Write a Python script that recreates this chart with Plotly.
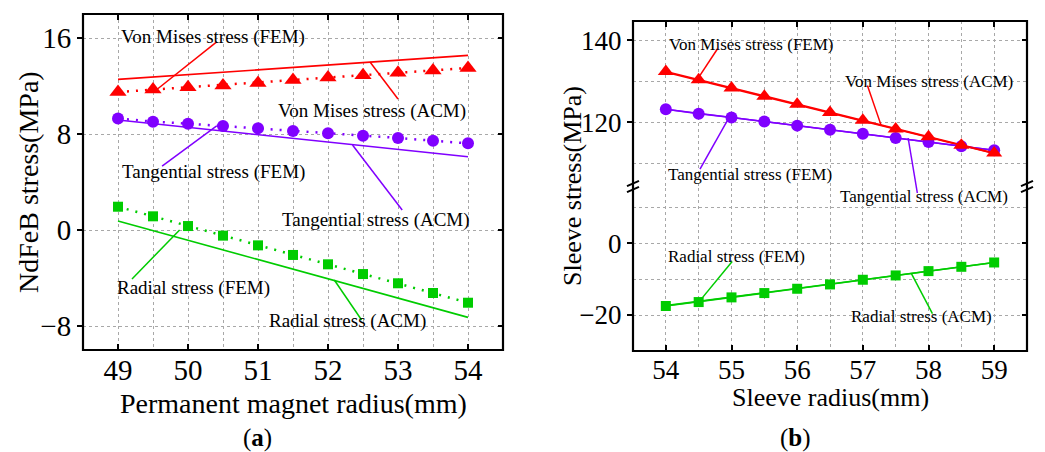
import plotly.graph_objects as go

W, H = 1045, 452
FONT = "Liberation Serif"
RED, PURPLE, GREEN = "#FF0000", "#8000FF", "#00CC00"

# ---------------- data: panel (a) ----------------
r_pm = [49, 49.5, 50, 50.5, 51, 51.5, 52, 52.5, 53, 53.5, 54]
vm_fem_a = [11.5, 11.7, 11.9, 12.05, 12.25, 12.5, 12.7, 12.9, 13.1, 13.3, 13.5]
tg_fem_a = [9.3, 9.03, 8.86, 8.67, 8.47, 8.25, 8.06, 7.86, 7.67, 7.44, 7.22]
rd_fem_a = [1.94, 1.14, 0.33, -0.47, -1.28, -2.08, -2.86, -3.67, -4.44, -5.25, -6.06]
r_pm_acm = [49, 54]
vm_acm_a = [12.55, 14.55]
tg_acm_a = [9.17, 6.1]
rd_acm_a = [0.75, -7.28]

# ---------------- data: panel (b) ----------------
r_sl = [54, 54.5, 55, 55.5, 56, 56.5, 57, 57.5, 58, 58.5, 59]
vm_fem_b = [132.4, 130.4, 128.4, 126.35, 124.4, 122.4, 120.5, 118.4, 116.5, 114.4, 112.5]
tg_fem_b = [123.2, 122.1, 121.2, 120.2, 119.2, 118.2, 117.2, 116.2, 115.2, 114.2, 113.2]
rd_fem_b = [-17.5, -16.4, -15.1, -13.9, -12.7, -11.5, -10.2, -9.0, -7.8, -6.6, -5.4]
r_sl_acm = [54, 59]
vm_acm_b = [132.2, 112.4]
tg_acm_b = [123.2, 113.2]
rd_acm_b = [-17.4, -5.4]

def PX(x):
    return x / W

def PY(y):
    return 1 - y / H

LX = [PX(83), PX(503)]
LY = [PY(350), PY(14)]
RX = [PX(633), PX(1027)]
RUP = [PY(188), PY(21)]
RLO = [PY(351), PY(188)]

fig = go.Figure()

def dotted(x, y, color, sym, size, xa, ya):
    fig.add_trace(go.Scatter(x=x, y=y, mode="lines+markers", xaxis=xa, yaxis=ya,
                             line=dict(color=color, width=2.5, dash="2px,7px"),
                             marker=dict(symbol=sym, size=size, color=color),
                             showlegend=False))

def solid(x, y, color, xa, ya, sym=None, size=None):
    fig.add_trace(go.Scatter(x=x, y=y, mode="lines+markers" if sym else "lines",
                             xaxis=xa, yaxis=ya,
                             line=dict(color=color, width=1.6),
                             marker=dict(symbol=sym, size=size, color=color) if sym else None,
                             showlegend=False))

# panel (a)
solid(r_pm_acm, vm_acm_a, RED, "x", "y")
solid(r_pm_acm, tg_acm_a, PURPLE, "x", "y")
solid(r_pm_acm, rd_acm_a, GREEN, "x", "y")
dotted(r_pm, vm_fem_a, RED, "triangle-up", 15, "x", "y")
dotted(r_pm, tg_fem_a, PURPLE, "circle", 12, "x", "y")
dotted(r_pm, rd_fem_a, GREEN, "square", 10, "x", "y")

# panel (b) : upper part on x3/y3, lower part on x2/y4
solid(r_sl_acm, vm_acm_b, RED, "x3", "y3")
solid(r_sl_acm, tg_acm_b, PURPLE, "x3", "y3")
solid(r_sl_acm, rd_acm_b, GREEN, "x2", "y4")
solid(r_sl, tg_fem_b, PURPLE, "x3", "y3", "circle", 12)
solid(r_sl, vm_fem_b, RED, "x3", "y3", "triangle-up", 14)
solid(r_sl, rd_fem_b, GREEN, "x2", "y4", "square", 10)

# dummy traces so the overlay (mirror tick) axes are drawn
for xa, ya in [("x", "y2"), ("x3", "y5"), ("x2", "y6")]:
    fig.add_trace(go.Scatter(x=[None], y=[None], xaxis=xa, yaxis=ya, showlegend=False,
                             hoverinfo="skip"))

GRID = dict(gridcolor="#a8a8a8", griddash="dot", gridwidth=1)
TICKF_A = dict(family=FONT, size=29, color="black")
TICKF_B = dict(family=FONT, size=27, color="black")

fig.update_layout(
    width=W, height=H, margin=dict(l=0, r=0, t=0, b=0),
    font=dict(family=FONT, color="black"),
    paper_bgcolor="white", plot_bgcolor="white",
    xaxis=dict(domain=LX, anchor="y", range=[48.5, 54.5], dtick=1, tick0=49,
               ticks="inside", ticklen=6, tickwidth=2, tickcolor="black", mirror="ticks",
               showline=False, zeroline=False, showgrid=True, tickfont=TICKF_A,
               minor=dict(dtick=0.5, tick0=49, showgrid=True, ticks="", **GRID), **GRID),
    yaxis=dict(domain=LY, anchor="x", range=[-10, 18], dtick=8, tick0=0,
               ticks="outside", ticklen=5, tickwidth=2, tickcolor="black",
               showline=False, zeroline=False, showgrid=True, tickfont=TICKF_A, **GRID),
    yaxis2=dict(overlaying="y", anchor="x", side="right", range=[-10, 18], dtick=8, tick0=0,
                ticks="inside", ticklen=5, tickwidth=2, tickcolor="black",
                showticklabels=False, showgrid=False, zeroline=False, showline=False),
    xaxis2=dict(domain=RX, anchor="y4", range=[53.5, 59.5], dtick=1, tick0=54,
                ticks="inside", ticklen=6, tickwidth=2, tickcolor="black",
                showline=False, zeroline=False, showgrid=True, tickfont=TICKF_B,
                minor=dict(dtick=0.5, tick0=54, showgrid=True, ticks="", **GRID), **GRID),
    xaxis3=dict(domain=RX, anchor="y3", side="top", range=[53.5, 59.5],
                dtick=1, tick0=54, ticks="inside", ticklen=6, tickwidth=2, tickcolor="black",
                showticklabels=False, showline=False, zeroline=False, showgrid=True,
                minor=dict(dtick=0.5, tick0=54, showgrid=True, ticks="", **GRID), **GRID),
    yaxis3=dict(domain=RUP, anchor="x3", range=[104, 144.7], dtick=20, tick0=0,
                ticks="outside", ticklen=5, tickwidth=2, tickcolor="black",
                showline=False, zeroline=False, showgrid=True, tickfont=TICKF_B,
                minor=dict(dtick=10, tick0=0, showgrid=True, ticks="", **GRID), **GRID),
    yaxis4=dict(domain=RLO, anchor="x2", range=[-30, 15.3], dtick=20, tick0=0,
                ticks="outside", ticklen=5, tickwidth=2, tickcolor="black",
                showline=False, zeroline=False, showgrid=True, tickfont=TICKF_B,
                minor=dict(dtick=10, tick0=0, showgrid=True, ticks="", **GRID), **GRID),
    yaxis5=dict(overlaying="y3", anchor="x3", side="right", range=[104, 144.7], dtick=20,
                tick0=0, ticks="inside", ticklen=5, tickwidth=2, tickcolor="black",
                showticklabels=False, showgrid=False, zeroline=False, showline=False),
    yaxis6=dict(overlaying="y4", anchor="x2", side="right", range=[-30, 15.3], dtick=20,
                tick0=0, ticks="inside", ticklen=5, tickwidth=2, tickcolor="black",
                showticklabels=False, showgrid=False, zeroline=False, showline=False),
)

shapes = []
# frames
shapes.append(dict(type="rect", xref="paper", yref="paper", x0=LX[0], x1=LX[1],
                   y0=LY[0], y1=LY[1], line=dict(color="black", width=2.2)))
shapes.append(dict(type="rect", xref="paper", yref="paper", x0=RX[0], x1=RX[1],
                   y0=RLO[0], y1=RUP[1], line=dict(color="black", width=2.2)))
# axis break marks
for xc in (633, 1027):
    for yc in (183.5, 189.5):
        shapes.append(dict(type="line", xref="paper", yref="paper",
                           x0=PX(xc - 6), y0=PY(yc + 2.7), x1=PX(xc + 6), y1=PY(yc - 2.7),
                           line=dict(color="black", width=2)))

# leader lines (data coordinates)
def leader(x0, y0, x1, y1, color, xref, yref):
    shapes.append(dict(type="line", xref=xref, yref=yref, x0=x0, y0=y0, x1=x1, y1=y1,
                       line=dict(color=color, width=1.5)))

leader(50.41, 15.67, 49.51, 11.5, RED, "x", "y")
leader(53.0, 10.92, 52.6, 14.0, RED, "x", "y")
leader(49.63, 5.33, 50.41, 8.67, PURPLE, "x", "y")
leader(53.06, 1.67, 52.35, 7.08, PURPLE, "x", "y")
leader(49.2, -4.08, 49.88, 0.0, GREEN, "x", "y")
leader(52.48, -7.5, 52.09, -4.17, GREEN, "x", "y")

leader(54.79, 138.0, 54.49, 130.7, RED, "x3", "y3")
leader(57.07, 129.0, 57.28, 119.2, RED, "x3", "y3")
leader(54.52, 108.6, 54.96, 121.1, PURPLE, "x3", "y3")
leader(57.83, PY(193), 57.69, PY(138), PURPLE, "x3", "paper")
leader(55.01, -5.1, 54.52, -16.0, GREEN, "x2", "y4")
leader(58.06, -19.6, 57.74, -8.5, GREEN, "x2", "y4")

fig.update_layout(shapes=shapes)

ann = []
def label(text, x, y, xref, yref, size):
    ann.append(dict(text=text, x=x, y=y, xref=xref, yref=yref, showarrow=False,
                    xanchor="center", yanchor="middle",
                    font=dict(family=FONT, size=size, color="black")))

label("Von Mises stress (FEM)", 50.35, 16.08, "x", "y", 19)
label("Von Mises stress (ACM)", 52.63, 9.92, "x", "y", 19)
label("Tangential stress (FEM)", 50.36, 4.83, "x", "y", 19)
label("Tangential stress (ACM)", 52.68, 0.83, "x", "y", 19)
label("Radial stress (FEM)", 50.08, -4.83, "x", "y", 19)
label("Radial stress (ACM)", 52.28, -7.58, "x", "y", 19)

label("Von Mises stress (FEM)", 55.30, 139.0, "x3", "y3", 17)
label("Von Mises stress (ACM)", 58.01, 129.95, "x3", "y3", 17)
label("Tangential stress (FEM)", 55.28, 107.4, "x3", "y3", 17)
label("Tangential stress (ACM)", 57.93, 13.0, "x2", "y4", 17)
label("Radial stress (FEM)", 55.07, -3.7, "x2", "y4", 17)
label("Radial stress (ACM)", 57.90, -20.5, "x2", "y4", 17)

# axis titles and panel labels
label("Permanent magnet radius(mm)", PX(293), PY(403), "paper", "paper", 28)
label("Sleeve radius(mm)", PX(830), PY(397), "paper", "paper", 26)
label("(<b>a</b>)", PX(257), PY(438), "paper", "paper", 25)
label("(<b>b</b>)", PX(795), PY(438), "paper", "paper", 25)
ann.append(dict(text="NdFeB stress(MPa)", x=PX(28), y=PY(182), xref="paper", yref="paper",
                showarrow=False, textangle=-90, xanchor="center", yanchor="middle",
                font=dict(family=FONT, size=28, color="black")))
ann.append(dict(text="Sleeve stress(MPa)", x=PX(572), y=PY(186), xref="paper", yref="paper",
                showarrow=False, textangle=-90, xanchor="center", yanchor="middle",
                font=dict(family=FONT, size=26, color="black")))
fig.update_layout(annotations=ann)

fig.write_html("out.html")
